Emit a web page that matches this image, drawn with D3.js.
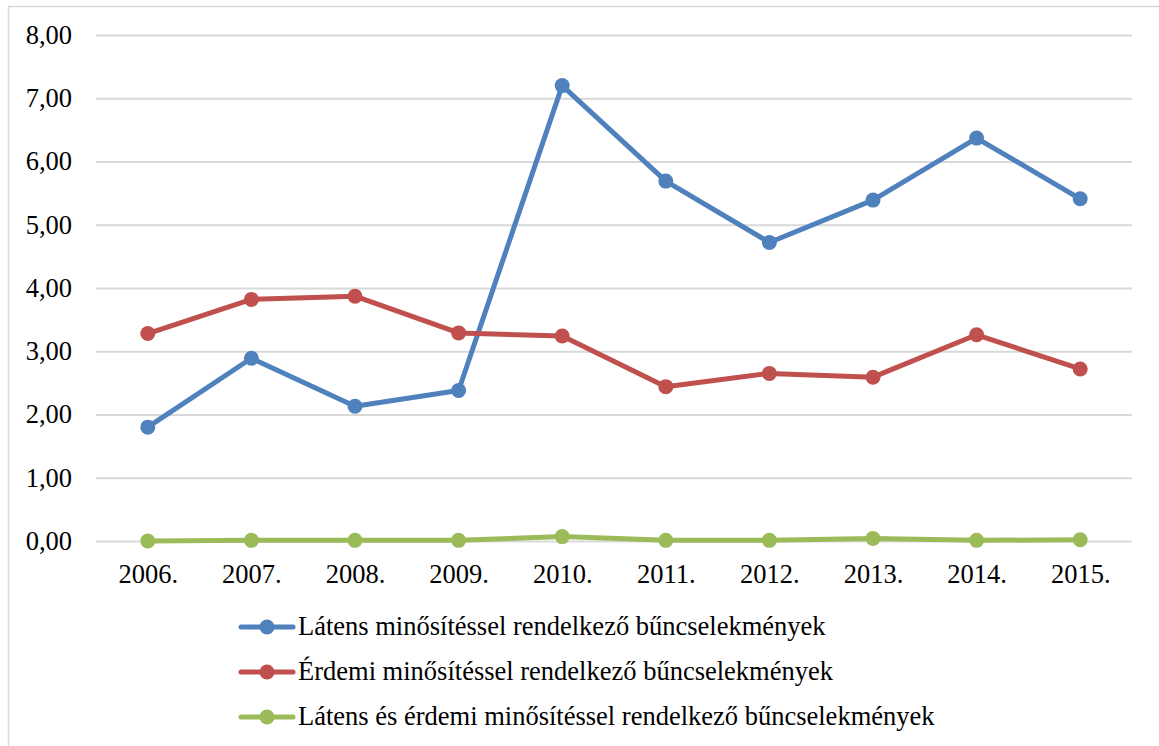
<!DOCTYPE html>
<html>
<head>
    <meta charset="UTF-8">
    <script src="https://d3js.org/d3.v7.min.js"></script>
    <style>
        body { margin: 0; background: #fff; }
    </style>
</head>
<body>
<script>
    const width = 1159;
    const height = 746;
    const font = "Liberation Serif, Times New Roman, serif";
    const fontSize = 26.5;

    const years = ["2006.", "2007.", "2008.", "2009.", "2010.", "2011.", "2012.", "2013.", "2014.", "2015."];
    const latens = [1.80, 2.89, 2.13, 2.38, 7.20, 5.69, 4.72, 5.39, 6.37, 5.41];
    const erdemi = [3.28, 3.82, 3.87, 3.29, 3.24, 2.44, 2.65, 2.59, 3.26, 2.72];
    const mindketto = [0.00, 0.01, 0.01, 0.01, 0.07, 0.01, 0.01, 0.04, 0.01, 0.02];
    const yTicks = [0, 1, 2, 3, 4, 5, 6, 7, 8];

    const seriesNames = [
        "Látens minősítéssel rendelkező bűncselekmények",
        "Érdemi minősítéssel rendelkező bűncselekmények",
        "Látens és érdemi minősítéssel rendelkező bűncselekmények"
    ];
    const colors = ["#4F81BD", "#C0504D", "#9BBB59"];
    const series = [latens, erdemi, mindketto];

    const plot = { left: 96, right: 1132, top: 35, bottom: 541 };

    const svg = d3.select("body").append("svg")
        .attr("width", width)
        .attr("height", height);

    // keret
    svg.append("rect")
        .attr("x", 8.5).attr("y", 6.5)
        .attr("width", width).attr("height", height)
        .attr("fill", "none")
        .attr("stroke", "#d9d9d9")
        .attr("stroke-width", 1.5);

    const x = d3.scalePoint()
        .domain(years)
        .range([plot.left, plot.right])
        .padding(0.5);

    const y = d3.scaleLinear()
        .domain([0, 8])
        .range([plot.bottom, plot.top]);

    // rácsvonalak + y tengely
    const yAxis = svg.append("g")
        .attr("transform", `translate(${plot.left},0)`)
        .call(d3.axisLeft(y)
            .tickValues(yTicks)
            .tickSize(-(plot.right - plot.left))
            .tickPadding(24)
            .tickFormat(d => d3.format(".2f")(d).replace(".", ",")));
    yAxis.select(".domain").remove();
    yAxis.selectAll(".tick line").attr("stroke", "#d9d9d9").attr("stroke-width", 2);
    yAxis.selectAll(".tick text")
        .attr("font-family", font)
        .attr("font-size", fontSize)
        .attr("fill", "#000");

    // x tengely
    const xAxis = svg.append("g")
        .attr("transform", `translate(0,${plot.bottom})`)
        .call(d3.axisBottom(x).tickSize(0).tickPadding(23));
    xAxis.select(".domain").remove();
    xAxis.selectAll(".tick text")
        .attr("font-family", font)
        .attr("font-size", fontSize)
        .attr("fill", "#000");

    const line = d3.line()
        .x((d, i) => x(years[i]))
        .y(d => y(d));

    series.forEach((values, s) => {
        const g = svg.append("g");
        g.append("path")
            .datum(values)
            .attr("d", line)
            .attr("fill", "none")
            .attr("stroke", colors[s])
            .attr("stroke-width", 5)
            .attr("stroke-linejoin", "round");
        g.selectAll("circle")
            .data(values)
            .join("circle")
            .attr("cx", (d, i) => x(years[i]))
            .attr("cy", d => y(d))
            .attr("r", 7.5)
            .attr("fill", colors[s]);
    });

    // jelmagyarázat
    const legendRows = [627, 672, 717];
    seriesNames.forEach((name, i) => {
        const row = svg.append("g").attr("transform", `translate(0,${legendRows[i]})`);
        row.append("line")
            .attr("x1", 241).attr("x2", 293)
            .attr("y1", 0).attr("y2", 0)
            .attr("stroke", colors[i])
            .attr("stroke-width", 5)
            .attr("stroke-linecap", "round");
        row.append("circle")
            .attr("cx", 267).attr("cy", 0)
            .attr("r", 7.5)
            .attr("fill", colors[i]);
        row.append("text")
            .attr("x", 298).attr("y", 8)
            .attr("font-family", font)
            .attr("font-size", fontSize)
            .attr("fill", "#000")
            .text(name);
    });
</script>
</body>
</html>
